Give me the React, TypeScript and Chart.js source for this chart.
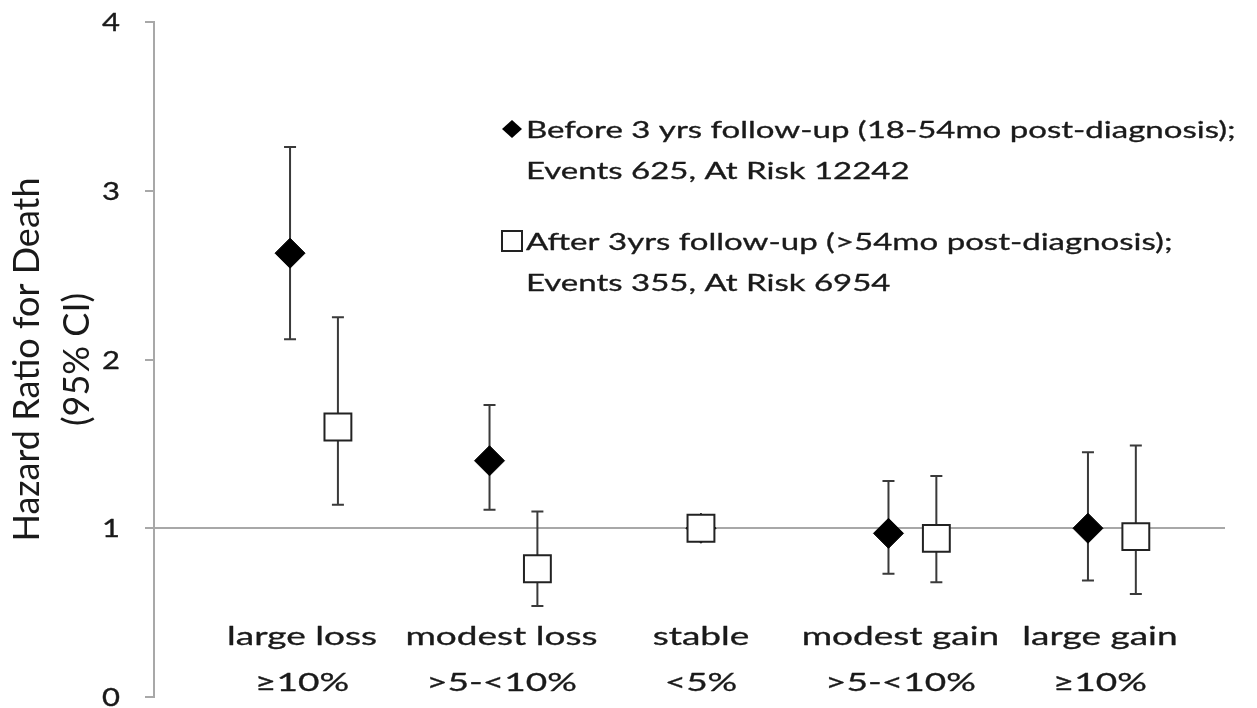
import React, { useEffect, useRef } from 'react';
import { Chart, registerables } from 'chart.js';

Chart.register(...registerables);

// ---- data ----
const categories: string[][] = [
  ['large loss', '≥10%'],
  ['modest loss', '>5-<10%'],
  ['stable', '<5%'],
  ['modest gain', '>5-<10%'],
  ['large gain', '≥10%'],
];
const categoryPos = [1, 2, 3, 4, 5];

const beforeLabel = ['Before 3 yrs follow-up (18-54mo post-diagnosis);', 'Events 625, At Risk 12242'];
const beforeX = [0.94, 1.94, 3.0, 3.94, 4.94];
const beforeHR = [2.63, 1.4, 1.0, 0.97, 1.0];
const beforeLo = [2.12, 1.11, 1.0, 0.73, 0.69];
const beforeHi = [3.26, 1.73, 1.0, 1.28, 1.45];

const afterLabel = ['After 3yrs follow-up (>54mo post-diagnosis);', 'Events 355, At Risk 6954'];
const afterX = [1.18, 2.18, 3.0, 4.18, 5.18];
const afterHR = [1.6, 0.76, 1.0, 0.94, 0.95];
const afterLo = [1.14, 0.54, 1.0, 0.68, 0.61];
const afterHi = [2.25, 1.1, 1.0, 1.31, 1.49];

const yTicks = [0, 1, 2, 3, 4];
const yTitle = ['Hazard Ratio for Death', '(95% CI)'];

// ---- styles ----
const FAMILY = 'Lato, "Open Sans", sans-serif';
const TEXT = '#1a1a1a';
const AXIS = '#a8a8a8';
const BAR = '#3a3a3a';

function squashText(ctx: any, text: string, x: number, y: number, size: number, k: number, align: string) {
  ctx.save();
  ctx.font = `${size}px ${FAMILY}`;
  ctx.textAlign = align;
  ctx.textBaseline = 'alphabetic';
  ctx.fillStyle = TEXT;
  ctx.strokeStyle = TEXT;
  ctx.lineWidth = 0.45;
  ctx.lineJoin = 'round';
  ctx.translate(x, y);
  ctx.scale(1, k);
  ctx.fillText(text, 0, 0);
  ctx.strokeText(text, 0, 0);
  ctx.restore();
}

const errorBars = {
  id: 'errorBars',
  beforeDatasetsDraw(chart: any) {
    const { ctx } = chart;
    const xs = chart.scales.x;
    const ys = chart.scales.y;
    const sets = [
      { x: beforeX, lo: beforeLo, hi: beforeHi },
      { x: afterX, lo: afterLo, hi: afterHi },
    ];
    ctx.save();
    ctx.strokeStyle = BAR;
    ctx.lineWidth = 2;
    sets.forEach((s) => {
      s.x.forEach((xv, i) => {
        if (s.lo[i] === s.hi[i]) return;
        const px = xs.getPixelForValue(xv);
        const yl = ys.getPixelForValue(s.lo[i]);
        const yh = ys.getPixelForValue(s.hi[i]);
        ctx.beginPath();
        ctx.moveTo(px, yl);
        ctx.lineTo(px, yh);
        ctx.moveTo(px - 6, yl);
        ctx.lineTo(px + 6, yl);
        ctx.moveTo(px - 6, yh);
        ctx.lineTo(px + 6, yh);
        ctx.stroke();
      });
    });
    ctx.restore();
  },
};

const axisText = {
  id: 'axisText',
  afterDraw(chart: any) {
    const { ctx } = chart;
    const xs = chart.scales.x;
    const ys = chart.scales.y;
    // y tick labels
    yTicks.forEach((v) => {
      squashText(ctx, String(v), ys.right - 34, ys.getPixelForValue(v) + 9, 31, 0.82, 'right');
    });
    // category labels
    const base = ys.getPixelForValue(1);
    categoryPos.forEach((v, i) => {
      const px = xs.getPixelForValue(v);
      categories[i].forEach((line, j) => {
        squashText(ctx, line, px, base + 117 + j * 46, 37, 0.7, 'center');
      });
    });
  },
};

const legendBox = {
  id: 'legendBox',
  afterDraw(chart: any) {
    const { ctx, chartArea } = chart;
    const x0 = chartArea.left + 358;
    const tx = x0 + 14;
    ctx.save();
    // entry 1: diamond
    const y1 = 129;
    ctx.beginPath();
    ctx.moveTo(x0, y1 - 9);
    ctx.lineTo(x0 + 10, y1);
    ctx.lineTo(x0, y1 + 9);
    ctx.lineTo(x0 - 10, y1);
    ctx.closePath();
    ctx.fillStyle = '#000';
    ctx.fill();
    beforeLabel.forEach((t, i) => squashText(ctx, t, tx, 138 + i * 41, 33, 0.72, 'left'));
    // entry 2: square
    const y2 = 241;
    ctx.lineWidth = 2;
    ctx.strokeStyle = '#222';
    ctx.fillStyle = '#fff';
    ctx.fillRect(x0 - 10, y2 - 10, 20, 20);
    ctx.strokeRect(x0 - 10, y2 - 10, 20, 20);
    afterLabel.forEach((t, i) => squashText(ctx, t, tx, 250 + i * 41, 33, 0.72, 'left'));
    ctx.restore();
  },
};

export default function App() {
  const ref = useRef<HTMLCanvasElement | null>(null);

  useEffect(() => {
    if (!ref.current) return;
    const chart = new Chart(ref.current, {
      type: 'scatter',
      data: {
        datasets: [
          {
            label: afterLabel.join(' '),
            data: afterX.map((x, i) => ({ x, y: afterHR[i] })),
            pointStyle: 'rect',
            pointRadius: 19,
            backgroundColor: '#fff',
            borderColor: '#222',
            borderWidth: 2,
            order: 0,
          },
          {
            label: beforeLabel.join(' '),
            data: beforeX.map((x, i) => ({ x, y: beforeHR[i] })),
            pointStyle: 'rectRot',
            pointRadius: 15,
            backgroundColor: '#000',
            borderColor: '#000',
            borderWidth: 1,
            order: 1,
          },
        ],
      },
      options: {
        responsive: true,
        maintainAspectRatio: false,
        animation: false,
        events: [],
        layout: { padding: { left: 0, right: 33, top: 22, bottom: 13 } },
        plugins: { legend: { display: false }, tooltip: { enabled: false } },
        scales: {
          x: {
            type: 'linear',
            position: { y: 1 } as any,
            min: 0.258,
            max: 5.622,
            grid: { display: false, drawTicks: false },
            border: { display: true, color: AXIS, width: 2 },
            afterBuildTicks: (s: any) => {
              s.ticks = categoryPos.map((v) => ({ value: v }));
            },
            ticks: { display: false },
            afterFit: (s: any) => {
              s.paddingLeft = 0;
              s.paddingRight = 0;
              s.paddingTop = 0;
              s.paddingBottom = 0;
              s.height = 0;
            },
          },
          y: {
            type: 'linear',
            min: 0,
            max: 4,
            afterBuildTicks: (s: any) => {
              s.ticks = yTicks.map((v) => ({ value: v }));
            },
            afterFit: (s: any) => {
              s.width = 154;
              s.paddingTop = 0;
              s.paddingBottom = 0;
            },
            grid: { drawOnChartArea: false, color: AXIS, lineWidth: 2, tickLength: 9 },
            border: { display: true, color: AXIS, width: 2 },
            ticks: { display: false },
            title: {
              display: true,
              text: yTitle,
              color: TEXT,
              font: { family: FAMILY, size: 36, lineHeight: 1.39 },
              padding: { top: 2, bottom: 0 },
            },
          },
        },
      },
      plugins: [errorBars, axisText, legendBox],
    });
    return () => chart.destroy();
  }, []);

  return (
    <div style={{ position: 'absolute', left: 0, top: 0, width: 1257, height: 708, overflow: 'hidden', background: '#fff' }}>
      <div style={{ position: 'relative', width: 1257, height: 718 }}>
        <canvas ref={ref} />
      </div>
    </div>
  );
}
